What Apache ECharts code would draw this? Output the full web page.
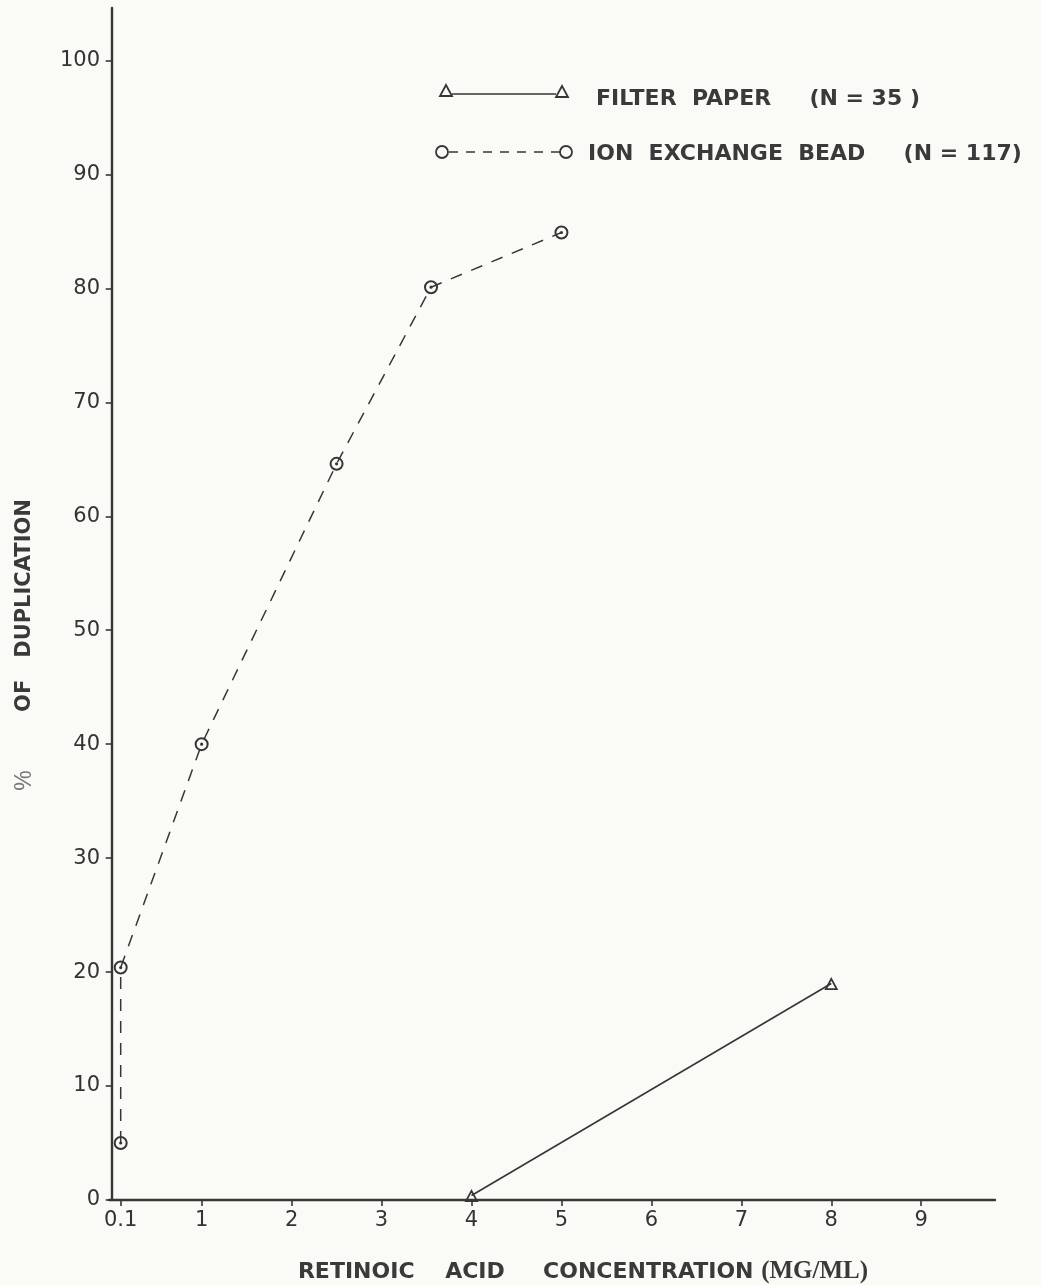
<!DOCTYPE html>
<html lang="en">
<head>
    <meta charset="UTF-8">
    <title>Retinoic Acid Duplication</title>
    <script type="text/javascript" src="https://cdn.jsdelivr.net/npm/echarts@6/dist/echarts.min.js"></script>
    <style>
        html, body { margin: 0; padding: 0; background: #fafaf6; }
    </style>
</head>
<body>
    <div id="main" style="width: 1041px;height:1285px;"></div>
    <script type="text/javascript">
        // data: [concentration (mg/ml), % of duplication]
        var filterPaper = [[4, 0.4], [8, 19]];
        var ionBead = [[0.1, 5], [0.1, 20.4], [1, 40], [2.5, 64.6], [3.55, 80.1], [5, 84.9]];

        var xTicks = [0.1, 1, 2, 3, 4, 5, 6, 7, 8, 9];
        var yTicks = [0, 10, 20, 30, 40, 50, 60, 70, 80, 90, 100];

        var filterLabel = 'FILTER  PAPER     (N = 35 )';
        var ionLabel = 'ION  EXCHANGE  BEAD     (N = 117)';

        var ink = '#363636';
        // ring with a dot in the middle, hollow triangle
        var ringSymbol = 'path://M0,-7A7,7 0 1,1 0,7A7,7 0 1,1 0,-7ZM0,-5A5,5 0 1,0 0,5A5,5 0 1,0 0,-5ZM0,-1.6A1.6,1.6 0 1,1 0,1.6A1.6,1.6 0 1,1 0,-1.6Z';
        var triSymbol = 'path://M0,-7L6.5,5L-6.5,5ZM0,-3.6L-3.7,3.3L3.7,3.3Z';

        var myChart = echarts.init(document.getElementById('main'));

        var option = {
            backgroundColor: '#fafaf6',
            animation: false,
            grid: {
                left: 109,
                top: 8,
                width: 886,
                height: 1192,
                containLabel: false,
                outerBoundsMode: 'none'
            },
            xAxis: {
                type: 'value',
                min: -0.03,
                max: 9.82,
                name: '{t|RETINOIC    ACID     CONCENTRATION }{s|(MG/ML)}',
                nameLocation: 'middle',
                nameGap: 58,
                nameTextStyle: {
                    padding: [0, 0, 0, 62],
                    rich: {
                        t: { fontFamily: 'DejaVu Sans', fontWeight: 'bold', fontSize: 22, color: '#3a3a3a', lineHeight: 28 },
                        s: { fontFamily: 'Liberation Serif', fontWeight: 'bold', fontSize: 25, color: '#3a3a3a', lineHeight: 28 }
                    }
                },
                axisLine: { show: true, lineStyle: { color: ink, width: 2.4 } },
                axisTick: { show: true, length: 6, customValues: xTicks, lineStyle: { color: ink, width: 1.6 } },
                axisLabel: {
                    customValues: xTicks,
                    margin: 10,
                    fontFamily: 'DejaVu Sans',
                    fontSize: 21,
                    color: '#333'
                },
                splitLine: { show: false }
            },
            yAxis: {
                type: 'value',
                min: 0,
                max: 104.6,
                name: '{p|%}{t|        OF   DUPLICATION}',
                nameLocation: 'middle',
                nameGap: 71,
                nameTextStyle: {
                    padding: [0, 82, 0, 0],
                    rich: {
                        p: { fontFamily: 'Liberation Sans', fontSize: 23, color: '#777', lineHeight: 26 },
                        t: { fontFamily: 'DejaVu Sans', fontWeight: 'bold', fontSize: 21, color: '#3a3a3a', lineHeight: 26 }
                    }
                },
                axisLine: { show: true, lineStyle: { color: ink, width: 2.4 } },
                axisTick: { show: true, length: 6, customValues: yTicks, lineStyle: { color: ink, width: 1.6 } },
                axisLabel: {
                    customValues: yTicks,
                    margin: 9,
                    fontFamily: 'DejaVu Sans',
                    fontSize: 21,
                    color: '#333'
                },
                splitLine: { show: false }
            },
            series: [{
                name: 'FILTER PAPER (N = 35)',
                type: 'line',
                data: filterPaper,
                symbol: triSymbol,
                symbolSize: [14, 13],
                lineStyle: { color: ink, width: 1.6 },
                itemStyle: { color: ink, borderWidth: 0 }
            }, {
                name: 'ION EXCHANGE BEAD (N = 117)',
                type: 'line',
                data: ionBead,
                symbol: ringSymbol,
                symbolSize: 14,
                lineStyle: { color: ink, width: 1.5, type: [12, 10] },
                itemStyle: { color: ink, borderWidth: 0 }
            }],
            // hand drawn key: marker - line - marker, then text
            graphic: [
                { type: 'line', shape: { x1: 452, y1: 94, x2: 556, y2: 94 }, style: { stroke: ink, lineWidth: 1.6 } },
                { type: 'polygon', shape: { points: [[446, 85], [452, 96], [440, 96]] }, style: { fill: 'none', stroke: ink, lineWidth: 1.8 } },
                { type: 'polygon', shape: { points: [[562, 86], [568, 97], [556, 97]] }, style: { fill: 'none', stroke: ink, lineWidth: 1.8 } },
                { type: 'text', x: 596, y: 99, style: { text: filterLabel, fontFamily: 'DejaVu Sans', fontWeight: 'bold', fontSize: 22, fill: '#3a3a3a', verticalAlign: 'middle' } },
                { type: 'line', shape: { x1: 449, y1: 152, x2: 560, y2: 152 }, style: { stroke: ink, lineWidth: 1.5, lineDash: [9, 8] } },
                { type: 'circle', shape: { cx: 442, cy: 152, r: 6 }, style: { fill: '#fafaf6', stroke: ink, lineWidth: 1.8 } },
                { type: 'circle', shape: { cx: 566, cy: 152, r: 6 }, style: { fill: '#fafaf6', stroke: ink, lineWidth: 1.8 } },
                { type: 'text', x: 588, y: 154, style: { text: ionLabel, fontFamily: 'DejaVu Sans', fontWeight: 'bold', fontSize: 22, fill: '#3a3a3a', verticalAlign: 'middle' } }
            ]
        };

        myChart.setOption(option);
    </script>
</body>
</html>
